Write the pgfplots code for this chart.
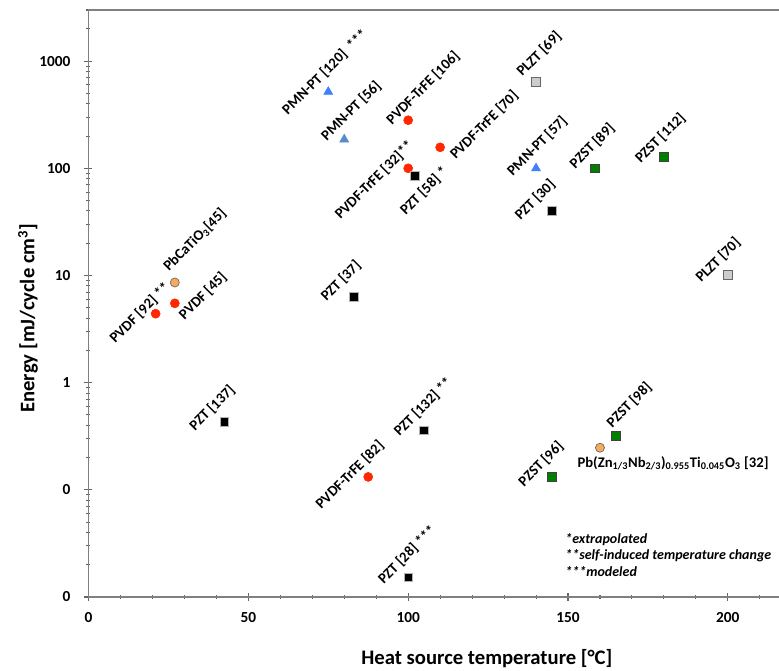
\documentclass[border=0pt]{standalone}
\usepackage{fontspec}
\setmainfont{Carlito}
\usepackage{pgfplots}
\pgfplotsset{compat=1.18}

\definecolor{axgray}{RGB}{128,128,128}
\definecolor{ptred}{RGB}{255,38,0}
\definecolor{ptblue}{RGB}{64,128,255}
\definecolor{ptsteel}{RGB}{88,140,200}
\definecolor{ptgreen}{RGB}{0,128,0}
\definecolor{ptlgray}{RGB}{204,204,204}
\definecolor{ptorange}{RGB}{248,170,92}

\tikzset{lbl/.style={rotate=45, anchor=center, inner sep=0pt,
                     font=\bfseries\fontsize{11}{13}\selectfont}}

\begin{document}
\begin{tikzpicture}
\begin{axis}[
    at={(0,0)}, anchor=south west,
    scale only axis,
    width=517.875pt, height=440.25pt,
    ymode=log,
    xmin=0, xmax=216,
    ymin=0.01, ymax=3000,
    clip=false,
    axis x line*=bottom, axis y line*=left,
    axis line style={draw=axgray, line width=1.1pt, -},
    xtick={0,50,100,150,200},
    minor xtick={10,20,30,40,60,70,80,90,110,120,130,140,160,170,180,190,210},
    ytick={0.01,0.1,1,10,100,1000},
    yticklabels={0,0,1,10,100,1000},
    minor ytick={0.02,0.03,0.04,0.05,0.06,0.07,0.08,0.09,
                 0.2,0.3,0.4,0.5,0.6,0.7,0.8,0.9,
                 2,3,4,5,6,7,8,9,20,30,40,50,60,70,80,90,
                 200,300,400,500,600,700,800,900,2000,3000},
    tick align=center,
    major tick length=6pt, minor tick length=3pt,
    tick style={draw=black!60, line width=0.8pt},
    /pgf/number format/assume math mode=true,
    ticklabel style={font=\bfseries\fontsize{11.5}{13}\selectfont},
    xticklabel style={yshift=-5pt},
    yticklabel style={xshift=-7pt},
    xlabel={Heat source temperature [°C]},
    ylabel={Energy [mJ/cycle cm\textsuperscript{3}]},
    label style={font=\bfseries\fontsize{15.5}{18}\selectfont},
    xlabel style={at={(axis description cs:0.577,-0.1045)}, anchor=center},
    ylabel style={at={(axis description cs:-0.0876,0.475)}, anchor=center},
]

% blue triangles
\addplot[only marks, mark=triangle*, mark size=3.9pt,
         mark options={fill=ptblue, draw=ptblue}]
    coordinates {(75,517) (140,100)};
% steel-blue triangle
\addplot[only marks, mark=triangle*, mark size=3.9pt,
         mark options={fill=ptsteel, draw=ptsteel}]
    coordinates {(80,186)};
% red circles (PVDF, PVDF-TrFE)
\addplot[only marks, mark=*, mark size=3.4pt,
         mark options={fill=ptred, draw=ptred}]
    coordinates {(100,281) (100,100) (110,157) (27,5.5) (21,4.4) (87.5,0.132)};
% black squares (PZT)
\addplot[only marks, mark=square*, mark size=3.3pt,
         mark options={fill=black, draw=gray!60, line width=0.4pt}]
    coordinates {(102,85) (145,40) (83,6.3) (42.5,0.43) (105,0.36) (100,0.0153)};
% green squares (PZST)
\addplot[only marks, mark=square*, mark size=3.3pt,
         mark options={fill=ptgreen, draw=black!75, line width=0.5pt}]
    coordinates {(158.5,100) (180,127) (165,0.32) (145,0.132)};
% light gray squares (PLZT)
\addplot[only marks, mark=square*, mark size=3.3pt,
         mark options={fill=ptlgray, draw=black!60, line width=0.6pt}]
    coordinates {(140,637) (200,10.2)};
% orange circles
\addplot[only marks, mark=*, mark size=3.4pt,
         mark options={fill=ptorange, draw=black!60, line width=0.5pt}]
    coordinates {(27,8.6) (160,0.247)};

\draw[axgray, line width=1.1pt] (rel axis cs:0,1) -- (rel axis cs:1,1);

\node[lbl] at (axis cs:74,789) {PMN-PT [120] \ ***};
\node[lbl] at (axis cs:82.2,342) {PMN-PT [56]};
\node[lbl] at (axis cs:104.7,560) {PVDF-TrFE [106]};
\node[lbl] at (axis cs:89.4,77.6) {PVDF-TrFE [32]**};
\node[lbl] at (axis cs:105,61.3) {PZT [58] *};
\node[lbl] at (axis cs:123.8,253) {PVDF-TrFE [70]};
\node[lbl] at (axis cs:141,1162) {PLZT [69]};
\node[lbl] at (axis cs:140.4,161) {PMN-PT [57]};
\node[lbl] at (axis cs:157.6,161) {PZST [89]};
\node[lbl] at (axis cs:178.9,191) {PZST [112]};
\node[lbl] at (axis cs:139.7,50.5) {PZT [30]};
\node[lbl] at (axis cs:197,13.9) {PLZT [70]};
\node[lbl] at (axis cs:33.3,21.4) {PbCaTiO\textsubscript{3}[45]};
\node[lbl] at (axis cs:35.8,6.43) {PVDF [45]};
\node[lbl] at (axis cs:16.1,4.46) {PVDF [92] **};
\node[lbl] at (axis cs:79,8.87) {PZT [37]};
\node[lbl] at (axis cs:38.7,0.579) {PZT [137]};
\node[lbl] at (axis cs:104.7,0.591) {PZT [132] **};
\node[lbl] at (axis cs:169.2,0.618) {PZST [98]};
\node[lbl] at (axis cs:141.6,0.174) {PZST [96]};
\node[lbl] at (axis cs:81.8,0.1374) {PVDF-TrFE [82]};
\node[lbl] at (axis cs:99.7,0.0247) {PZT [28] ***};
\node[anchor=west, inner sep=0pt, font=\bfseries\fontsize{11}{13}\selectfont]
    at (axis cs:152.9,0.178)
    {Pb(Zn\textsubscript{1/3}Nb\textsubscript{2/3})\textsubscript{0.955}Ti\textsubscript{0.045}O\textsubscript{3} [32]};
\node[anchor=west, align=left, inner sep=0pt,
      font=\bfseries\itshape\fontsize{10.5}{12.5}\selectfont]
    at (axis cs:149.1,0.0247)
    {*extrapolated\\**self-induced temperature change\\***modeled};
\end{axis}
\pgfresetboundingbox
\path (-66.375pt,-55.5pt) rectangle (517.875pt,447.75pt);
\end{tikzpicture}
\end{document}
